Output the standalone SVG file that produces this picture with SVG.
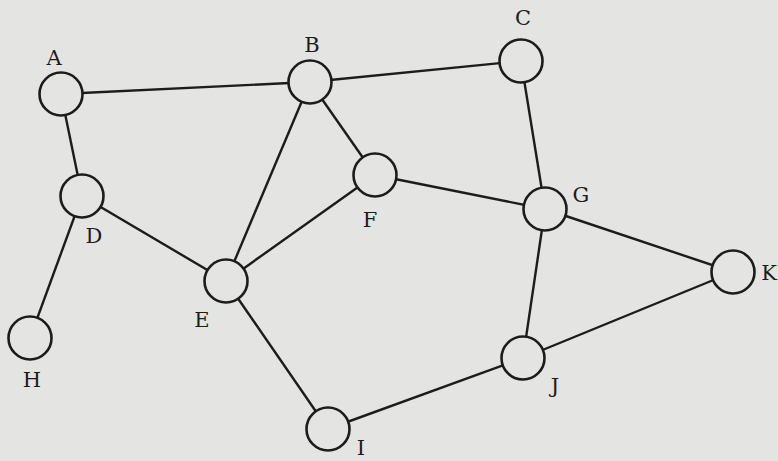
<svg xmlns="http://www.w3.org/2000/svg" width="778" height="461" viewBox="0 0 778 461">
<style>
.bg{fill:#e4e4e2}
.node circle{fill:#e4e4e2;stroke:#1c1c1c;stroke-width:2.6}
.node text{font-family:"DejaVu Serif","Liberation Serif",serif;font-size:21px;fill:#1c1c1c;text-anchor:middle}
#edges line{stroke:#1c1c1c;stroke-width:2.4}
</style>
<rect class="bg" x="0" y="0" width="778" height="461"/>
<g id="edges">
<line x1="61" y1="94" x2="310" y2="82"/>
<line x1="61" y1="94" x2="82" y2="196"/>
<line x1="82" y1="196" x2="30" y2="338"/>
<line x1="82" y1="196" x2="226" y2="281"/>
<line x1="310" y1="82" x2="521" y2="61"/>
<line x1="310" y1="82" x2="226" y2="281"/>
<line x1="310" y1="82" x2="375" y2="175"/>
<line x1="375" y1="175" x2="226" y2="281"/>
<line x1="375" y1="175" x2="545" y2="209"/>
<line x1="521" y1="61" x2="545" y2="209"/>
<line x1="545" y1="209" x2="733" y2="272"/>
<line x1="545" y1="209" x2="523" y2="358"/>
<line x1="733" y1="272" x2="523" y2="358"/>
<line x1="523" y1="358" x2="328" y2="429"/>
<line x1="226" y1="281" x2="328" y2="429"/>
</g>
<g id="node-A" class="node"><circle cx="61" cy="94" r="21.5"/><text x="54" y="65">A</text></g>
<g id="node-B" class="node"><circle cx="310" cy="82" r="21.5"/><text x="312" y="52">B</text></g>
<g id="node-C" class="node"><circle cx="521" cy="61" r="21.5"/><text x="523" y="25">C</text></g>
<g id="node-D" class="node"><circle cx="82" cy="196" r="21.5"/><text x="94" y="243">D</text></g>
<g id="node-E" class="node"><circle cx="226" cy="281" r="21.5"/><text x="202" y="327">E</text></g>
<g id="node-F" class="node"><circle cx="375" cy="175" r="21.5"/><text x="370" y="227">F</text></g>
<g id="node-G" class="node"><circle cx="545" cy="209" r="21.5"/><text x="581" y="202">G</text></g>
<g id="node-H" class="node"><circle cx="30" cy="338" r="21.5"/><text x="32" y="387">H</text></g>
<g id="node-I" class="node"><circle cx="328" cy="429" r="21.5"/><text x="361" y="455">I</text></g>
<g id="node-J" class="node"><circle cx="523" cy="358" r="21.5"/><text x="555" y="393">J</text></g>
<g id="node-K" class="node"><circle cx="733" cy="272" r="21.5"/><text x="777" y="280" style="text-anchor:end">K</text></g>
</svg>
